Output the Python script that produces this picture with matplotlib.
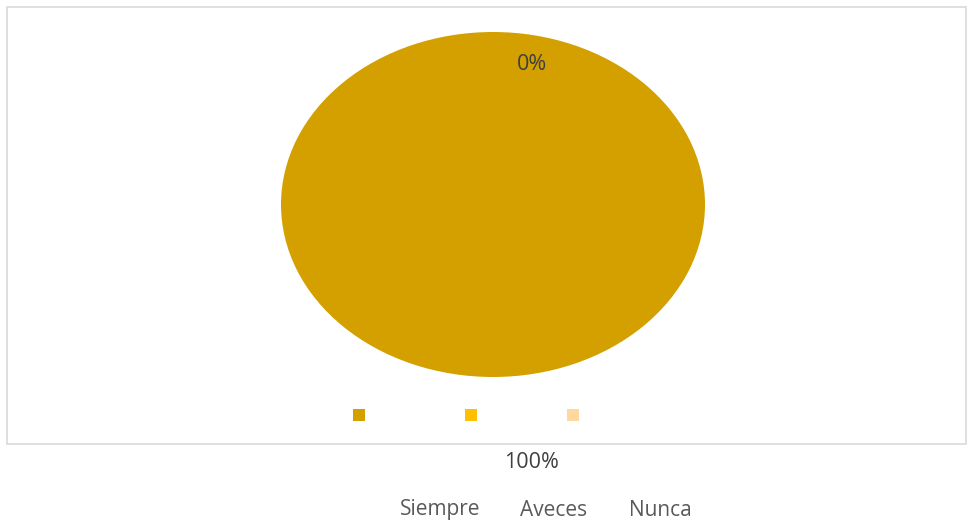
import matplotlib
matplotlib.use("Agg")
import matplotlib.pyplot as plt
from matplotlib.patches import Rectangle

# data
categories = ['Siempre', 'Aveces', 'Nunca']
values = [100, 0, 0]
colors = ['#D4A000', '#FFC000', '#FFD8A0']

W, H = 967, 523
plt.rcParams['font.family'] = ['Open Sans', 'DejaVu Sans']

fig = plt.figure(figsize=(W / 100, H / 100), dpi=100)

# outer frame
fig.patches.append(Rectangle((7 / W, 1 - 444 / H), 959 / W, 437 / H,
                             transform=fig.transFigure, fill=False,
                             edgecolor='#D9D9D9', linewidth=1.2))

# pie axes (stretched ellipse)
ax = fig.add_axes([281 / W, 1 - 377 / H, 424 / W, 345 / H])
wedges, _ = ax.pie(values, colors=colors, startangle=90, counterclock=False,
                   radius=1, wedgeprops=dict(linewidth=0))
ax.set_aspect('auto')
ax.set_xlim(-1, 1)
ax.set_ylim(-1, 1)
ax.axis('off')

# data labels
total = sum(values)
pct = [f"{round(v / total * 100)}%" for v in values]
fig.text(532 / W, 1 - 65 / H, pct[1], ha='center', va='center',
         fontsize=15.5, color='#404040')
fig.text(531 / W, 1 - 463 / H, pct[0], ha='center', va='center',
         fontsize=15.5, color='#404040')

# legend: markers inside frame, names below
marker_x = [359, 471, 573]
label_x = [440, 554, 660]
for c, name, mx, lx in zip(colors, categories, marker_x, label_x):
    fig.patches.append(Rectangle(((mx - 6) / W, 1 - 421 / H), 12 / W, 12 / H,
                                 transform=fig.transFigure, facecolor=c,
                                 edgecolor='none'))
    fig.text(lx / W, 1 - 510 / H, name, ha='center', va='center',
             fontsize=15, color='#595959')

fig.savefig('out.png', dpi=100)
